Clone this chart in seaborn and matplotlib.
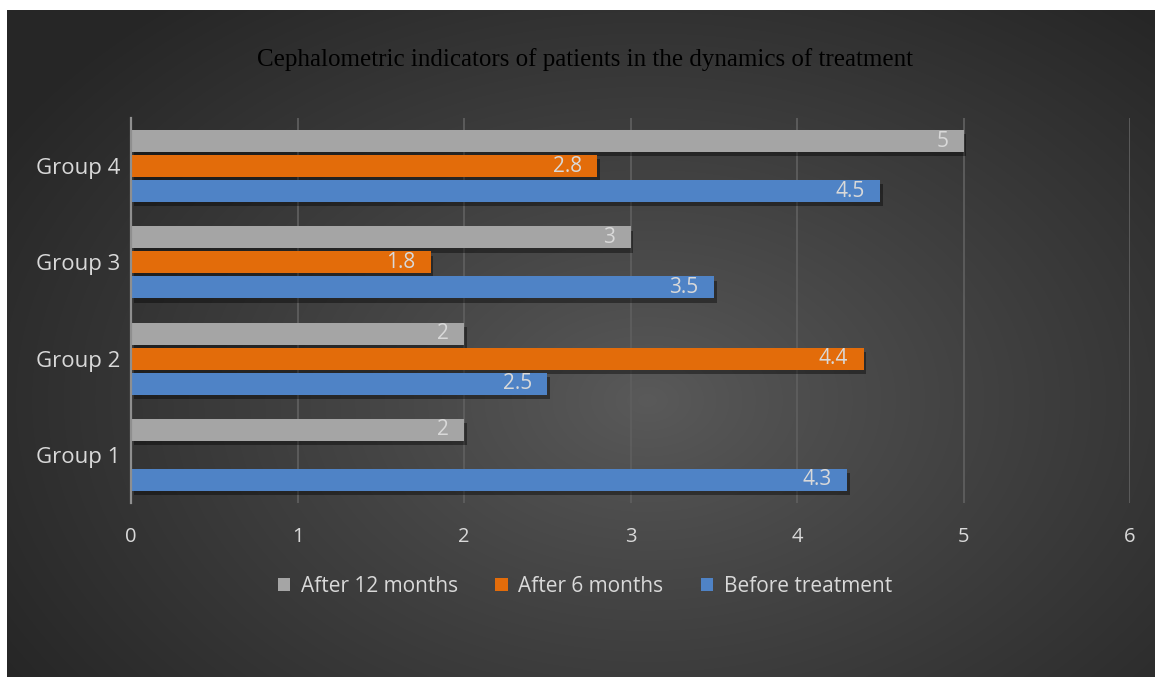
import numpy as np
import pandas as pd
import matplotlib
matplotlib.use("Agg")
import matplotlib.pyplot as plt
import seaborn as sns
from matplotlib import patheffects as pe

# ---- data ----
groups = ["Group 4", "Group 3", "Group 2", "Group 1"]
series = ["After 12 months", "After 6 months", "Before treatment"]
after_12 = [5, 3, 2, 2]
after_6 = [2.8, 1.8, 4.4, 0]
before = [4.5, 3.5, 2.5, 4.3]
x_ticks = [0, 1, 2, 3, 4, 5, 6]
title = "Cephalometric indicators of patients in the dynamics of treatment"

colors = ["#A5A5A5", "#E36C0A", "#4F83C6"]
text_col = "#D9D9D9"

df = pd.DataFrame({
    "Group": groups * 3,
    "Value": after_12 + after_6 + before,
    "Series": np.repeat(series, len(groups)),
})

sns.set_theme(style="dark")
plt.rcParams['font.family'] = ['Open Sans', 'DejaVu Sans']

W, H = 1155, 677
fig = plt.figure(figsize=(W / 100, H / 100), dpi=100, facecolor="white")

# background with radial gradient
bx0, by_top = 7, 10
bg = fig.add_axes([bx0 / W, 0, (W - bx0) / W, (H - by_top) / H])
bw, bh = W - bx0, H - by_top
yy, xx = np.mgrid[0:bh, 0:bw]
cx, cy = 640, 390
d = np.sqrt(((xx - cx) / 760.0) ** 2 + ((yy - cy) / 520.0) ** 2)
d = np.clip(d, 0, 1)
v = (0x5a - (0x5a - 0x26) * d ** 0.9) / 255.0
img = np.dstack([v, v, v])
bg.imshow(img, aspect="auto", interpolation="bilinear", extent=[0, 1, 0, 1])
bg.set_axis_off()

# main axes
ax = fig.add_axes([131 / W, 1 - 503 / H, 999 / W, 385 / H])
ax.patch.set_alpha(0)

sns.barplot(data=df, y="Group", x="Value", hue="Series", order=groups,
            hue_order=series, palette=colors, orient="h", width=0.78,
            gap=0.12, saturation=1, ax=ax, linewidth=0, zorder=3)

ax.set_xlim(0, 6)
ax.set_ylim(3.5, -0.5)
ax.set_xticks(x_ticks)
ax.set_xticklabels([str(t) for t in x_ticks])
ax.set_xlabel("")
ax.set_ylabel("")
ax.xaxis.grid(True, color="#5e5e5e", lw=1.3, zorder=0)
ax.yaxis.grid(False)
for s in ["top", "right", "bottom"]:
    ax.spines[s].set_visible(False)
ax.spines["left"].set_color("#8f8f8f")
ax.spines["left"].set_linewidth(1.6)
ax.spines["left"].set_zorder(4)
ax.tick_params(axis="x", length=0, pad=17, labelsize=14.5, labelcolor=text_col)
ax.tick_params(axis="y", length=0, pad=8, labelsize=16, labelcolor=text_col)

shadow = [pe.SimplePatchShadow(offset=(2, -3), shadow_rgbFace="black", alpha=0.4), pe.Normal()]
for cont in ax.containers:
    for bar in cont:
        bar.set_path_effects(shadow)
        w = bar.get_width()
        if w > 0:
            ax.annotate(f"{w:g}", xy=(w, bar.get_y() + bar.get_height() / 2),
                        xytext=(-11, 0), textcoords="offset points",
                        ha="right", va="center", color=text_col, fontsize=15,
                        zorder=5)

handles, labels = ax.get_legend_handles_labels()
if ax.get_legend() is not None:
    ax.get_legend().remove()
leg = fig.legend(handles, labels, loc="center", bbox_to_anchor=(585 / W, 1 - 586 / H),
                 ncol=3, frameon=False, fontsize=15, handlelength=0.6,
                 handleheight=0.6, handletextpad=0.5, columnspacing=1.8)
for t in leg.get_texts():
    t.set_color(text_col)

fig.text(585 / W, 1 - 60 / H, title, ha="center", va="center",
         color="black", fontsize=18, family=["Liberation Serif", "DejaVu Serif"])

fig.savefig("out.png", dpi=100, facecolor="white")
